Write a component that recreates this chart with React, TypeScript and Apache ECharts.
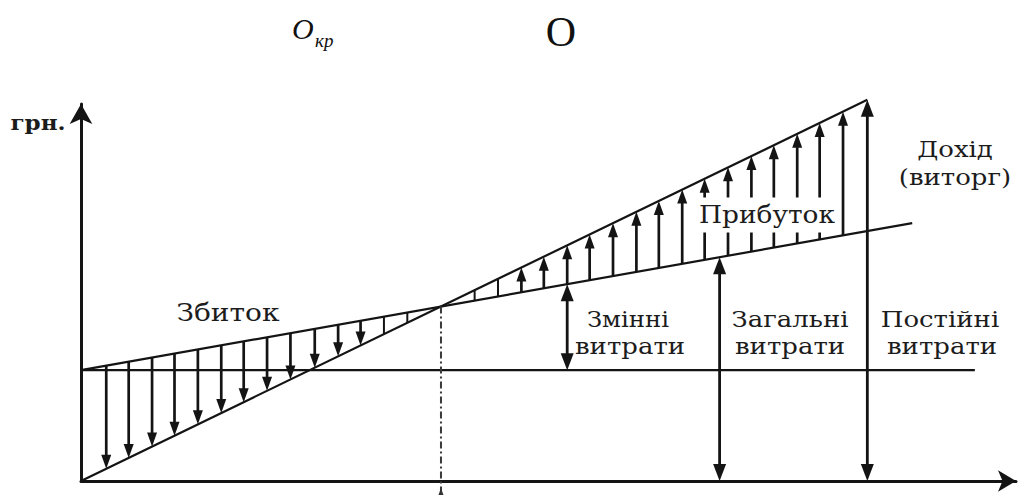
import React, { useEffect, useRef } from "react";
import * as echarts from "echarts";

// Main lines (x: output units, y: UAH units)
const revenueLine = [[0, 0], [84.1, 101.1]];
const totalCostLine = [[0, 29.4], [88.9, 68.4]];
const fixedCostLine = [[0, 29.4], [95.6, 29.4]];
const breakEvenX = 38.5;
const breakEvenY = 46.3;

// Loss hatching (from total cost down to revenue)
const lossArrowX = [2.7, 5.1, 7.6, 10.0, 12.5, 15.0, 17.4, 19.9, 22.4, 25.0, 27.5, 29.9];
const lossArrowFrom = [30.58, 31.64, 32.73, 33.79, 34.88, 35.98, 37.03, 38.13, 39.23, 40.37, 41.46, 42.52];
const lossArrowTo = [3.25, 6.13, 9.14, 12.02, 15.03, 18.03, 20.92, 23.92, 26.93, 30.05, 33.06, 35.94];
const lossTickX = [32.4, 34.9];
const lossTickFrom = [43.61, 44.71];
const lossTickTo = [38.95, 41.95];

// Profit hatching (from total cost up to revenue)
const profitTickX = [42.1, 44.6];
const profitTickFrom = [47.87, 48.97];
const profitTickTo = [50.61, 53.61];
const profitArrowX = [47.1, 49.5, 52.0, 54.4, 56.9, 59.4, 61.8, 64.3, 66.7, 69.2, 71.7, 74.1, 76.6, 79.0, 81.5];
const profitArrowFrom = [50.06, 51.12, 52.21, 53.27, 54.36, 55.46, 56.51, 57.61, 58.66, 59.76, 60.86, 61.91, 63.0, 64.06, 65.15];
const profitArrowTo = [56.62, 59.5, 62.51, 65.39, 68.4, 71.4, 74.29, 77.3, 80.18, 83.19, 86.19, 89.08, 92.08, 94.97, 97.97];

// Dimension arrows: variable costs, total costs, "fixed" (revenue height)
const dimX = [52.0, 68.3, 84.1];
const dimFrom = [29.4, 0, 0];
const dimTo = [52.21, 59.36, 101.1];

// Break-even marker below axis
const beMarkFrom = [-4];
const beMarkTo = [-1.9];

const zip = (xs: number[], a: number[], b: number[]) => xs.map((x, i) => [x, a[i], b[i]]);

type ArrowOpts = { width: number; headStart: boolean; headEnd: boolean; headW: number; headL: number; color: string };

function arrowRenderer(o: ArrowOpts) {
  return (_params: any, api: any) => {
    const x = api.value(0);
    const a = api.value(1);
    const b = api.value(2);
    const p1 = api.coord([x, a]);
    const p2 = api.coord([x, b]);
    const px = p1[0];
    const dir = p2[1] > p1[1] ? 1 : -1;
    const children: any[] = [];
    let s = p1[1];
    let e = p2[1];
    if (o.headStart) {
      s = p1[1] + dir * o.headL * 0.7;
      children.push({
        type: "polygon",
        shape: { points: [[px, p1[1]], [px - o.headW / 2, p1[1] + dir * o.headL], [px + o.headW / 2, p1[1] + dir * o.headL]] },
        style: { fill: o.color },
      });
    }
    if (o.headEnd) {
      e = p2[1] - dir * o.headL * 0.7;
      children.push({
        type: "polygon",
        shape: { points: [[px, p2[1]], [px - o.headW / 2, p2[1] - dir * o.headL], [px + o.headW / 2, p2[1] - dir * o.headL]] },
        style: { fill: o.color },
      });
    }
    children.unshift({
      type: "line",
      shape: { x1: px, y1: s, x2: px, y2: e },
      style: { stroke: o.color, lineWidth: o.width },
    });
    return { type: "group", children };
  };
}

const INK = "#141414";
const TEXT = "#1c1c1c";
const serif = "'DejaVu Serif', serif";

function label(text: string, x: number, y: number, size = 23, sx = 1.13, extra: any = {}) {
  return {
    type: "text",
    x,
    y,
    scaleX: sx,
    z: 100,
    style: {
      text,
      font: `${size}px ${serif}`,
      fill: TEXT,
      align: "center",
      verticalAlign: "middle",
      ...extra,
    },
  };
}

export default function App() {
  const ref = useRef<HTMLDivElement>(null);
  useEffect(() => {
    if (!ref.current) return;
    const chart = echarts.init(ref.current, undefined, { renderer: "svg" });
    const arrowSeries = (data: number[][], o: ArrowOpts) => ({
      type: "custom",
      coordinateSystem: "cartesian2d",
      clip: false,
      silent: true,
      encode: { x: 0, y: [1, 2] },
      data,
      renderItem: arrowRenderer(o),
      z: 5,
    });
    const hatch = { width: 2.7, headW: 10, headL: 14, color: INK };
    chart.setOption({
      animation: false,
      backgroundColor: "#ffffff",
      grid: { left: 81, right: 11, top: 104, bottom: 14 },
      xAxis: {
        type: "value",
        min: 0,
        max: 100,
        splitLine: { show: false },
        axisTick: { show: false },
        axisLabel: { show: false },
        axisLine: { show: true, onZero: false, symbol: ["none", "arrow"], symbolSize: [16, 18], lineStyle: { color: INK, width: 3 } },
      },
      yAxis: {
        type: "value",
        min: 0,
        max: 100,
        splitLine: { show: false },
        axisTick: { show: false },
        axisLabel: { show: false },
        axisLine: { show: true, onZero: false, symbol: ["none", "arrow"], symbolSize: [17, 20], lineStyle: { color: INK, width: 3 } },
      },
      series: [
        { type: "line", data: revenueLine, showSymbol: false, clip: false, lineStyle: { color: INK, width: 2.2 }, z: 3 },
        { type: "line", data: totalCostLine, showSymbol: false, clip: false, lineStyle: { color: INK, width: 2.2 }, z: 3 },
        { type: "line", data: fixedCostLine, showSymbol: false, clip: false, lineStyle: { color: INK, width: 2.2 }, z: 3 },
        {
          type: "line",
          data: [[breakEvenX, breakEvenY], [breakEvenX, -4]],
          showSymbol: false,
          clip: false,
          lineStyle: { color: "#3a3a3a", width: 2, type: [7, 3, 2, 3] },
          z: 3,
        },
        arrowSeries(zip(lossArrowX, lossArrowFrom, lossArrowTo), { ...hatch, headStart: false, headEnd: true }),
        arrowSeries(zip(lossTickX, lossTickFrom, lossTickTo), { ...hatch, width: 2, headStart: false, headEnd: false }),
        arrowSeries(zip(profitTickX, profitTickFrom, profitTickTo), { ...hatch, width: 2, headStart: false, headEnd: false }),
        arrowSeries(zip(profitArrowX, profitArrowFrom, profitArrowTo), { ...hatch, headStart: false, headEnd: true }),
        arrowSeries(zip(dimX, dimFrom, dimTo), { width: 2.8, headW: 13, headL: 17, color: INK, headStart: true, headEnd: true }),
        arrowSeries(zip([breakEvenX], beMarkFrom, beMarkTo), { width: 1.5, headW: 9, headL: 12, color: "#333", headStart: false, headEnd: true }),
      ],
      graphic: [
        { type: "text", x: 292, y: 28, style: { text: "O", font: "italic 30px 'Liberation Serif', serif", fill: "#111", align: "left", verticalAlign: "middle" } },
        { type: "text", x: 315, y: 40.6, style: { text: "кр", font: "italic 19px 'Liberation Serif', serif", fill: "#111", align: "left", verticalAlign: "middle" } },
        { type: "text", x: 561, y: 32.3, style: { text: "O", font: "42px 'Liberation Serif', serif", fill: "#111", align: "center", verticalAlign: "middle" } },
        label("грн.", 38, 122, 21, 1.1, { font: `bold 21px ${serif}` }),
        label("Дохід", 955, 149, 23),
        label("(виторг)", 955, 177, 23),
        label("Прибуток", 767, 215, 24, 1.1, { backgroundColor: "#ffffff", padding: [5, 4, 6, 4] }),
        label("Збиток", 228, 313, 24, 1.17),
        label("Змінні", 628, 319, 23, 1.06),
        label("витрати", 630, 346, 23),
        label("Загальні", 790, 319, 23),
        label("витрати", 790, 346, 23),
        label("Постійні", 940, 319, 23),
        label("витрати", 942, 346, 23),
      ],
    });
    return () => chart.dispose();
  }, []);
  return (
    <div
      ref={ref}
      style={{ position: "fixed", left: 0, top: 0, width: 1027, height: 495, background: "#fff" }}
    />
  );
}
